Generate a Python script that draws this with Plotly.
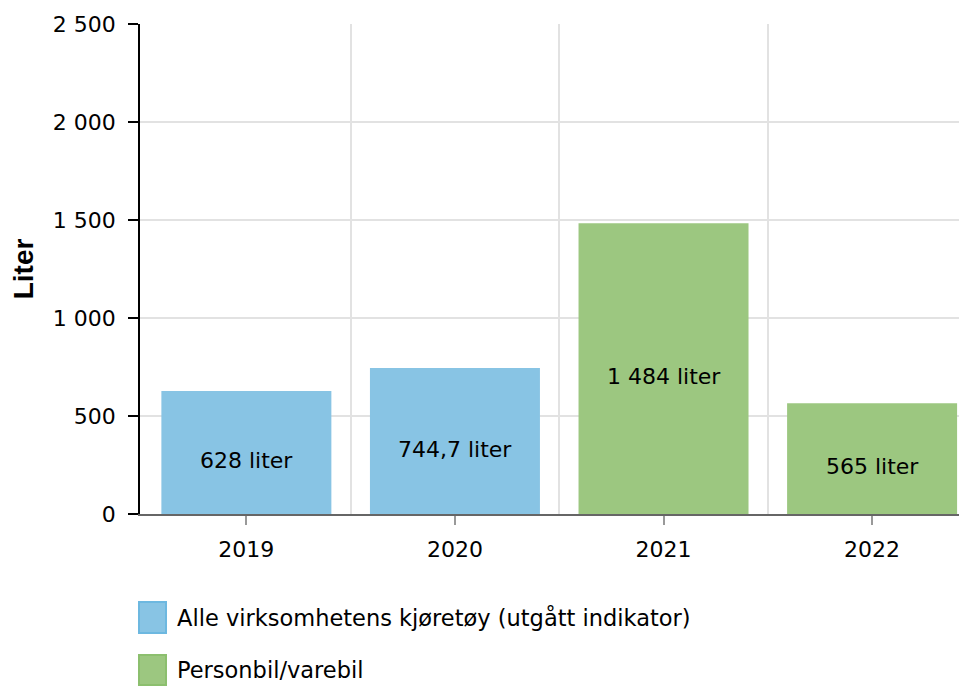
import plotly.graph_objects as go

# ---- data ----
years = ["2019", "2020", "2021", "2022"]
series_names = ["Alle virksomhetens kjøretøy (utgått indikator)", "Personbil/varebil"]
alle_years = ["2019", "2020"]
alle_values = [628, 744.7]
alle_labels = ["628 liter", "744,7 liter"]
person_years = ["2021", "2022"]
person_values = [1484, 565]
person_labels = ["1 484 liter", "565 liter"]
y_ticks = [0, 500, 1000, 1500, 2000, 2500]

BLUE = "#88c4e4"
BLUE_EDGE = "#6db8e0"
GREEN = "#9cc780"
GREEN_EDGE = "#8cbf6e"
FONT = "DejaVu Sans, Verdana, sans-serif"

# the page body has an 8px margin; compensate so the plot lands where the reference has it
BODY = 8
W, H = 967 - BODY, 686 - BODY
ML, MR, MT, MB = 140 - BODY, 0, 24 - BODY, 172
PW, PH = W - ML - MR, H - MT - MB

idx = {y: i for i, y in enumerate(years)}

fig = go.Figure()
for name, ys, vals, labels, col in [
    (series_names[0], alle_years, alle_values, alle_labels, BLUE),
    (series_names[1], person_years, person_values, person_labels, GREEN),
]:
    xs = [idx[y] for y in ys]
    fig.add_trace(go.Bar(
        name=name,
        x=xs,
        y=vals,
        width=0.815,
        marker=dict(color=col, line=dict(width=0)),
        showlegend=False,
        hoverinfo="x+y",
    ))
    # value labels, centred in each bar (slightly below middle as in the reference)
    for x, v, lab in zip(xs, vals, labels):
        fig.add_annotation(
            x=x, y=v / 2, xref="x", yref="y",
            text=lab, showarrow=False, yshift=-8,
            font=dict(family=FONT, size=22, color="black"),
        )

fig.update_layout(
    width=W, height=H,
    margin=dict(l=ML, r=MR, t=MT, b=MB),
    paper_bgcolor="white", plot_bgcolor="white",
    separators=", ",
    barmode="overlay",
    font=dict(family=FONT, size=22, color="black"),
)

fig.update_xaxes(
    range=[-0.51, 3.455],
    tickmode="array",
    tickvals=list(range(len(years))),
    ticktext=years,
    showgrid=False,
    zeroline=False,
    showline=True, linecolor="#666666", linewidth=1.5,
    ticks="outside", ticklen=9, tickcolor="#999999", tickwidth=1.5,
    ticklabelstandoff=6,
    tickfont=dict(family=FONT, size=22, color="black"),
    minor=dict(tickvals=[0.5, 1.5, 2.5], showgrid=True, gridcolor="#e2e2e2", gridwidth=2, ticks=""),
)

fig.update_yaxes(
    range=[0, 2500],
    tickmode="array",
    tickvals=y_ticks,
    tickformat=",",
    showgrid=True, gridcolor="#e2e2e2", gridwidth=2,
    zeroline=False,
    showline=True, linecolor="black", linewidth=1.5,
    ticks="outside", ticklen=10, tickcolor="black", tickwidth=1.5,
    ticklabelstandoff=8,
    tickfont=dict(family=FONT, size=22, color="black"),
    title=dict(text="<b>Liter</b>", font=dict(family="Liberation Sans, Arial, sans-serif", size=28, color="black"), standoff=20),
)

# custom legend (large swatches as in the reference); pixel positions given in window coords
def px_to_paper_x(px):
    return (px - BODY - ML) / PW

def px_to_paper_y(py):
    return (H - MB - (py - BODY)) / PH

legend_items = [
    (series_names[0], BLUE, BLUE_EDGE, 602, 633, 618),
    (series_names[1], GREEN, GREEN_EDGE, 655, 685, 670),
]
for name, fill, edge, top, bottom, cy in legend_items:
    fig.add_shape(
        type="rect", xref="paper", yref="paper",
        x0=px_to_paper_x(139), x1=px_to_paper_x(166),
        y0=px_to_paper_y(bottom), y1=px_to_paper_y(top),
        fillcolor=fill, line=dict(color=edge, width=2),
    )
    fig.add_annotation(
        xref="paper", yref="paper",
        x=px_to_paper_x(175), y=px_to_paper_y(cy),
        xanchor="left", yanchor="middle",
        text=name, showarrow=False,
        font=dict(family=FONT, size=22.5, color="black"),
    )

fig.write_html("out.html")
